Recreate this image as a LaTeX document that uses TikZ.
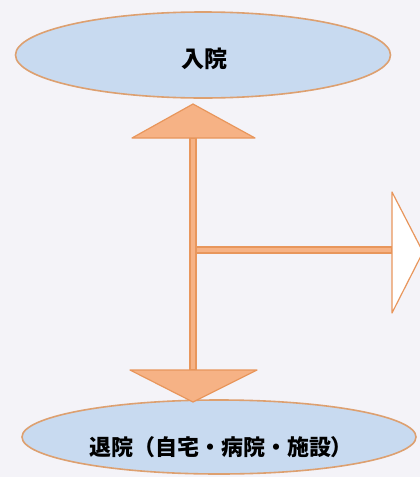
\documentclass[tikz,border=0pt]{standalone}
\usepackage{fontspec}
\newfontfamily\cjk{Noto Sans CJK JP}
\usetikzlibrary{shapes.geometric}
\definecolor{bgc}{HTML}{F4F3F8}
\definecolor{elfill}{HTML}{C8DAF0}
\definecolor{eldraw}{HTML}{DDA070}
\definecolor{arfill}{HTML}{F6B285}
\definecolor{ardraw}{HTML}{E8965C}
\tikzset{
  oval/.style={ellipse, draw=eldraw, line width=1.6pt, fill=elfill, inner sep=0pt},
  arrowpart/.style={draw=ardraw, line width=1.2pt, fill=arfill, line join=round},
  lbl/.style={font=\cjk\bfseries\fontsize{23}{26}\selectfont, text=black}
}
\begin{document}
\begin{tikzpicture}[x=1pt,y=-1pt]
\clip (0,0) rectangle (420,477);
\fill[bgc] (0,0) rectangle (420,477);
\useasboundingbox (0,0) rectangle (420,477);
% ellipses
\node[oval, minimum width=375pt, minimum height=86pt] (top) at (203,55) {};
\node[lbl] (toplbl) at (204,59) {入院};
\node[oval, minimum width=394pt, minimum height=74pt] (bot) at (219,437) {};
\node[lbl, font=\cjk\bfseries\fontsize{22}{25}\selectfont] (botlbl) at (221,447) {退院（自宅・病院・施設）};
% coordinates
\coordinate (uptip) at (193,104);
\coordinate (dntip) at (193,402);
\coordinate (rttip) at (423,252);
% shaft
\draw[arrowpart] (190,138) rectangle (196,370);
% horizontal shaft
\draw[arrowpart] (196,247) rectangle (392,253);
\fill[arfill] (191,247.6) rectangle (195,252.4);
% up head
\draw[arrowpart] (uptip) -- (255,138) -- (132,138) -- cycle;
% down head
\draw[arrowpart] (dntip) -- (130,370) -- (257,370) -- cycle;
% right head
\draw[draw=ardraw, line width=1.2pt, fill=white, line join=round] (rttip) -- (392,313) -- (392,192) -- cycle;
\end{tikzpicture}
\end{document}
